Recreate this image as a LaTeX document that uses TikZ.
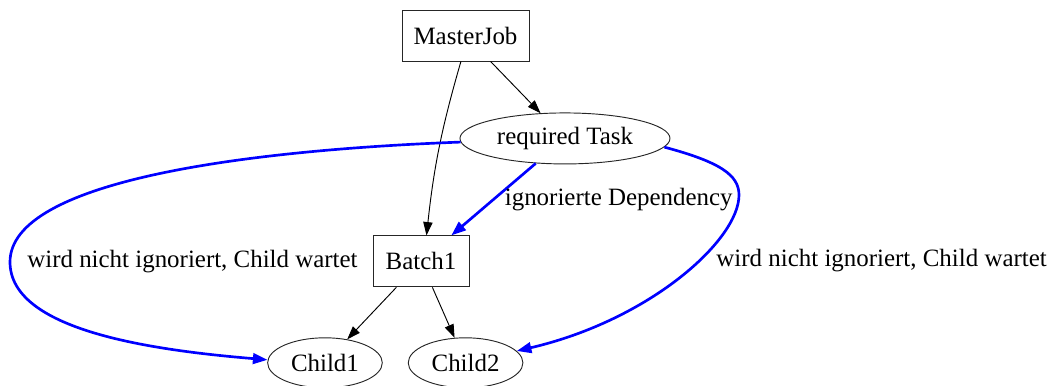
\documentclass[tikz,border=0pt]{standalone}
\usepackage{fontspec}
\setmainfont{Liberation Serif}
\usepackage{tikz}
\usetikzlibrary{arrows.meta,positioning,shapes.geometric}

\begin{document}
\begin{tikzpicture}[
    x=0.75pt, y=-0.75pt,
    every node/.style={font=\fontsize{18.7}{22}\selectfont},
    jobbox/.style={draw=black!85, line width=0.7pt, minimum height=38.25pt, align=center},
    taskell/.style={draw=black!85, ellipse, line width=0.7pt, inner sep=1pt, minimum height=37.5pt, minimum width=86pt},
    arrow/.style={-{Triangle[length=10pt,width=7pt]}, line width=0.7pt, color=black},
    barrow/.style={-{Triangle[length=11pt,width=8pt]}, line width=2pt, color=blue},
    lbl/.style={inner sep=1pt, text=black},
]
\useasboundingbox (0,0) rectangle (1055,385);

% Jobs and tasks
\node[jobbox, minimum width=95.25pt] (master) at (465.5,35.5) {MasterJob};
\node[taskell, minimum width=157.5pt, minimum height=38.25pt, below=38.25pt of master, xshift=74.6pt] (req) {required Task};
\node[jobbox, minimum width=72pt, below=53.25pt of req, xshift=-108pt] (batch) {Batch1};
\node[taskell, below=37.5pt of batch, xshift=-72pt] (child1) {Child1};
\node[taskell, right=18.75pt of child1] (child2) {Child2};

% Bends of the long blue edges
\coordinate (bendL) at (10,262);
\coordinate (bendR) at (739,195);

% Normal dependencies
\draw[arrow] (master) -- (req);
\draw[arrow] (master.-100) to[bend right=5] (batch.78);
\draw[arrow] (batch) -- (child1);
\draw[arrow] (batch) -- (child2);

% Dependencies of the required task
\draw[barrow] (req) -- node[lbl, right=6.5pt] {ignorierte Dependency} (batch);
\draw[barrow] (req.182) .. controls (250,150) and (10,180) .. (bendL)
    node[lbl, right=11pt] {wird nicht ignoriert, Child wartet}
    .. controls (10,330) and (150,350) .. (child1.177);
\draw[barrow] (req.-5) .. controls (720,162) and (739,175) .. (bendR)
    .. controls (739,240) and (650,320) .. node[lbl, pos=0.4, right=11pt] {wird nicht ignoriert, Child wartet} (child2.13);

\end{tikzpicture}
\end{document}
